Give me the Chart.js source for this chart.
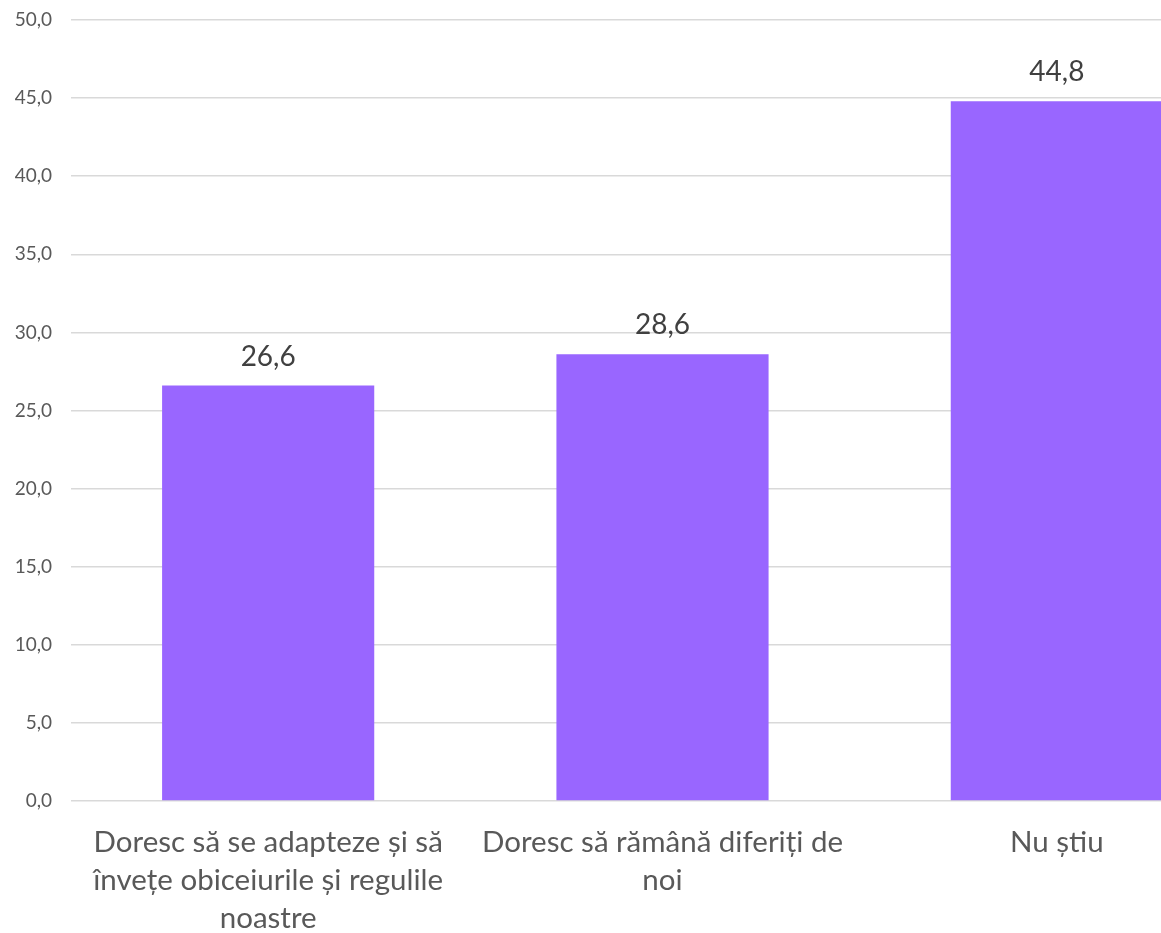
<!DOCTYPE html>
<html>
<head>
<meta charset="utf-8">
<script src="https://cdn.jsdelivr.net/npm/chart.js@4.4.1/dist/chart.umd.min.js"></script>
<style>
  html, body { margin: 0; padding: 0; background: #ffffff; overflow: hidden; }
  #wrap { position: relative; width: 1254px; height: 933px; }
</style>
</head>
<body>
<div id="wrap"><canvas id="c"></canvas></div>
<script>
const categories = [
  ["Doresc să se adapteze și să", "învețe obiceiurile și regulile", "noastre"],
  ["Doresc să rămână diferiți de", "noi"],
  ["Nu știu"]
];
const values = [26.6, 28.6, 44.8];
const yMin = 0, yMax = 50, yStep = 5;

const valueLabels = {
  id: 'valueLabels',
  afterDatasetsDraw(chart) {
    const ctx = chart.ctx;
    const meta = chart.getDatasetMeta(0);
    ctx.save();
    ctx.font = '28px Lato';
    ctx.fillStyle = '#404040';
    ctx.textAlign = 'center';
    ctx.textBaseline = 'alphabetic';
    meta.data.forEach((bar, i) => {
      ctx.fillText(values[i].toFixed(1).replace('.', ','), bar.x, bar.y - 20);
    });
    ctx.restore();
  }
};

new Chart(document.getElementById('c'), {
  type: 'bar',
  data: {
    labels: categories,
    datasets: [{
      data: values,
      backgroundColor: '#9966ff',
      borderWidth: 0,
      barPercentage: 1,
      categoryPercentage: 0.538
    }]
  },
  options: {
    responsive: true,
    maintainAspectRatio: false,
    animation: false,
    layout: { padding: { top: 20, left: 0, right: 0, bottom: 0 } },
    plugins: { legend: { display: false }, tooltip: { enabled: false } },
    scales: {
      x: {
        grid: { display: false },
        border: { display: false },
        ticks: {
          color: '#595959',
          font: { family: 'Lato', size: 29.5, lineHeight: 1.3 },
          padding: 14,
          maxRotation: 0,
          autoSkip: false
        },
        afterFit(scale) { scale.height = 132; }
      },
      y: {
        min: yMin,
        max: yMax,
        grid: { color: '#d9d9d9', lineWidth: 1.5, drawTicks: false },
        border: { display: false },
        ticks: {
          stepSize: yStep,
          color: '#595959',
          font: { family: 'Lato', size: 19 },
          padding: 19,
          callback: v => Number(v).toFixed(1).replace('.', ',')
        },
        afterFit(scale) { scale.width = 71; scale.paddingTop = 0; }
      }
    }
  },
  plugins: [valueLabels]
});
</script>
</body>
</html>
